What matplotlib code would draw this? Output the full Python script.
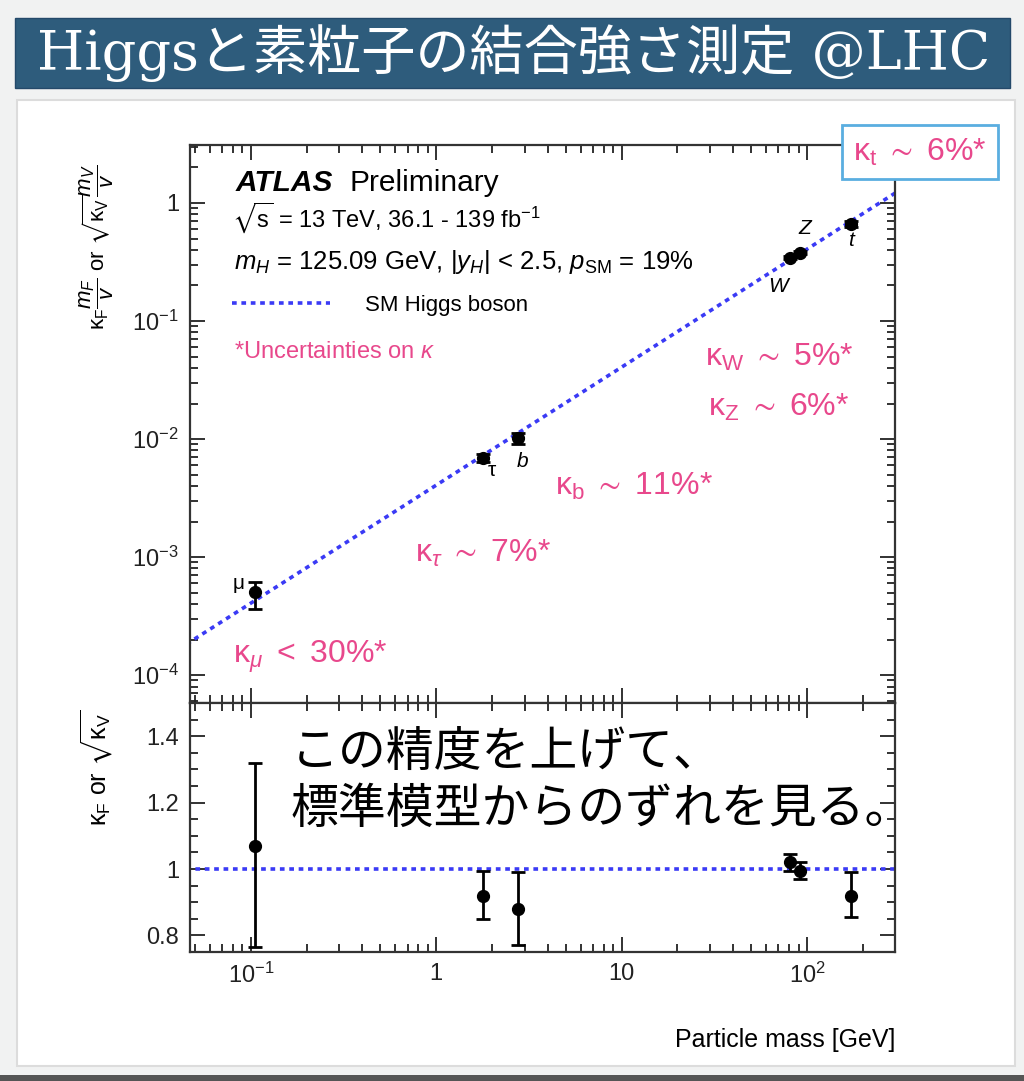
import matplotlib
matplotlib.use('Agg')
import matplotlib.pyplot as plt
from matplotlib.patches import Rectangle
from matplotlib.ticker import LogLocator, FixedLocator, MultipleLocator, NullFormatter

# --- data ---
particles = ['μ', 'τ', 'b', 'W', 'Z', 't']
mass = [0.1057, 1.777, 2.76, 80.4, 91.19, 172.5]

# top panel: kappa_F * m_F / v  or  sqrt(kappa_V) * m_V / v
coupling = [5.1e-4, 6.9e-3, 1.02e-2, 0.345, 0.38, 0.66]
coupling_lo = [3.6e-4, 6.4e-3, 0.90e-2, 0.335, 0.37, 0.62]
coupling_hi = [6.1e-4, 7.4e-3, 1.12e-2, 0.355, 0.39, 0.71]

# bottom panel: kappa_F or sqrt(kappa_V)
ratio = [1.07, 0.92, 0.88, 1.02, 0.995, 0.92]
ratio_lo = [0.765, 0.85, 0.77, 0.995, 0.97, 0.855]
ratio_hi = [1.32, 0.995, 0.99, 1.045, 1.02, 0.99]

sm_x = [0.045, 300]
sm_y = [1.83e-4, 1.22]
sm_ratio = [1.0, 1.0]

kappa_notes = ['$\\mathrm{κ_t}\\ \\sim\\ $6%*', '$\\mathrm{κ_W}\\ \\sim\\ $5%*', '$\\mathrm{κ_Z}\\ \\sim\\ $6%*',
               '$\\mathrm{κ_b}\\ \\sim\\ $11%*', '$\\mathrm{κ}_τ\\ \\sim\\ $7%*', '$\\mathrm{κ}_μ\\ <\\ $30%*']

plt.rcParams['font.family'] = ['Liberation Sans', 'DejaVu Sans']
plt.rcParams['mathtext.fontset'] = 'custom'
plt.rcParams['mathtext.rm'] = 'Liberation Sans'
plt.rcParams['mathtext.it'] = 'Liberation Sans:italic'
plt.rcParams['mathtext.bf'] = 'Liberation Sans:bold'
plt.rcParams['mathtext.fallback'] = 'stixsans'

W, H = 1024, 1081
fig = plt.figure(figsize=(W / 100, H / 100), dpi=100, facecolor='#f1f2f2')

def fx(px):
    return px / W

def fy(py):
    return 1 - py / H

# slide decorations
fig.patches.append(Rectangle((fx(17), fy(1066)), fx(998), 966 / H, transform=fig.transFigure,
                             facecolor='white', edgecolor='#dcdcdc', lw=1.5, zorder=-2))
fig.patches.append(Rectangle((0, 0), 1, 6 / H, transform=fig.transFigure,
                             facecolor='#555555', edgecolor='none', zorder=-2))
fig.patches.append(Rectangle((fx(15), fy(88)), fx(995), 70 / H, transform=fig.transFigure,
                             facecolor='#2e5c7c', edgecolor='#24496a', lw=1, zorder=-2))
fig.text(fx(514), fy(53), 'Higgsと素粒子の結合強さ測定 @LHC', color='white',
         fontsize=39, ha='center', va='center',
         family=['DejaVu Serif', 'Noto Sans CJK JP'])

ax1 = fig.add_axes([fx(190), fy(703), fx(705), 558 / H])
ax2 = fig.add_axes([fx(190), fy(952), fx(705), 249 / H], sharex=ax1)

pink = '#e8488c'
blue = '#3a3af5'

# SM lines
sm_line, = ax1.plot(sm_x, sm_y, color=blue, lw=2.6, dashes=(1.3, 1.3))
ax2.plot(sm_x, sm_ratio, color=blue, lw=2.6, dashes=(1.3, 1.3))

yerr1 = [[c - l for c, l in zip(coupling, coupling_lo)], [h - c for c, h in zip(coupling, coupling_hi)]]
ax1.errorbar(mass, coupling, yerr=yerr1, fmt='o', color='black', ms=8.5, elinewidth=2,
             capsize=5, capthick=2, zorder=5)
yerr2 = [[r - l for r, l in zip(ratio, ratio_lo)], [h - r for r, h in zip(ratio, ratio_hi)]]
ax2.errorbar(mass, ratio, yerr=yerr2, fmt='o', color='black', ms=8.5, elinewidth=2,
             capsize=5, capthick=2, zorder=5)

# particle labels
offsets = [(-12, 6), (7, -9), (3, -17), (-8, -21), (4, 17), (0, -12)]
for p, m, c, off in zip(particles, mass, coupling, offsets):
    style = 'normal' if p in ('μ', 'τ') else 'italic'
    ax1.annotate(p, (m, c), xytext=off, textcoords='offset points', ha='center', va='center',
                 fontsize=15, style=style)

for ax in (ax1, ax2):
    ax.set_xscale('log')
    ax.set_xlim(0.047, 298)
    ax.tick_params(which='both', direction='in', top=True, right=True, width=1.3, colors='#222222')
    ax.tick_params(which='major', length=11, labelsize=17, pad=8)
    ax.tick_params(which='minor', length=6)
    for s in ax.spines.values():
        s.set_linewidth(1.6)
        s.set_color('#333333')
    ax.xaxis.set_major_locator(FixedLocator([0.1, 1, 10, 100]))
    ax.xaxis.set_minor_locator(LogLocator(base=10, subs=range(2, 10), numticks=20))
    ax.xaxis.set_minor_formatter(NullFormatter())

ax1.set_yscale('log')
ax1.set_ylim(5.8e-5, 3.1)
ax1.yaxis.set_major_locator(FixedLocator([1e-4, 1e-3, 1e-2, 1e-1, 1]))
ax1.set_yticklabels(['10$^{-4}$', '10$^{-3}$', '10$^{-2}$', '10$^{-1}$', '1'])
ax1.yaxis.set_minor_locator(LogLocator(base=10, subs=range(2, 10), numticks=20))
ax1.yaxis.set_minor_formatter(NullFormatter())
plt.setp(ax1.get_xticklabels(), visible=False)

ax2.set_ylim(0.75, 1.5)
ax2.yaxis.set_major_locator(FixedLocator([0.8, 1.0, 1.2, 1.4]))
ax2.set_yticklabels(['0.8', '1', '1.2', '1.4'])
ax2.yaxis.set_minor_locator(MultipleLocator(0.05))
ax2.set_xticklabels(['10$^{-1}$', '1', '10', '10$^{2}$'])

# axis titles
fig.text(fx(97), fy(247), '$\\mathrm{κ_F}\\dfrac{m_F}{v}$ or $\\sqrt{\\mathrm{κ_V}}\\dfrac{m_V}{v}$',
         rotation=90, ha='center', va='center', fontsize=16)
fig.text(fx(97), fy(768), '$\\mathrm{κ_F}$ or $\\sqrt{\\mathrm{κ_V}}$',
         rotation=90, ha='center', va='center', fontsize=18)
fig.text(fx(895), fy(1040), 'Particle mass [GeV]', ha='right', va='center', fontsize=18)

# ATLAS labels
fig.text(fx(236), fy(183), 'ATLAS', fontsize=21.5, fontweight='bold', style='italic', va='center')
fig.text(fx(349), fy(183), 'Preliminary', fontsize=21.5, va='center')
fig.text(fx(232), fy(218), '$\\sqrt{\\mathrm{s}}$ = 13 TeV, 36.1 - 139 fb$^{-1}$', fontsize=17, va='center')
fig.text(fx(234), fy(262), '$m_H$ = 125.09 GeV, |$y_H$| < 2.5, $p_{\\mathrm{SM}}$ = 19%',
         fontsize=18.5, va='center')
ax1.legend(handles=[sm_line], labels=['SM Higgs boson'], loc='center left',
           bbox_to_anchor=((232 - 190) / 705, (703 - 305) / 558), frameon=False,
           fontsize=16, handlelength=4.4, handletextpad=1.6, borderpad=0, borderaxespad=0)
fig.text(fx(234), fy(352), '*Uncertainties on $κ$', color=pink, fontsize=17, va='center')

# kappa precision notes
note_pos = [(920, 152), (705, 357), (708, 407), (555, 486), (415, 553), (233, 657)]
for i, (note, (px, py)) in enumerate(zip(kappa_notes, note_pos)):
    if i == 0:
        fig.text(fx(px), fy(py), note, color=pink, fontsize=23, ha='center', va='center',
                 bbox=dict(boxstyle='square,pad=0.35', facecolor='white', edgecolor='#5aaee0', lw=2))
    else:
        fig.text(fx(px), fy(py), note, color=pink, fontsize=23, ha='left', va='center')

# Japanese comment
fig.text(fx(291), fy(727), 'この精度を上げて、\n標準模型からのずれを見る。', fontsize=34.5,
         ha='left', va='top', linespacing=1.2, family=['Noto Sans CJK JP', 'DejaVu Sans'])

fig.savefig('out.png', dpi=100, facecolor=fig.get_facecolor())
